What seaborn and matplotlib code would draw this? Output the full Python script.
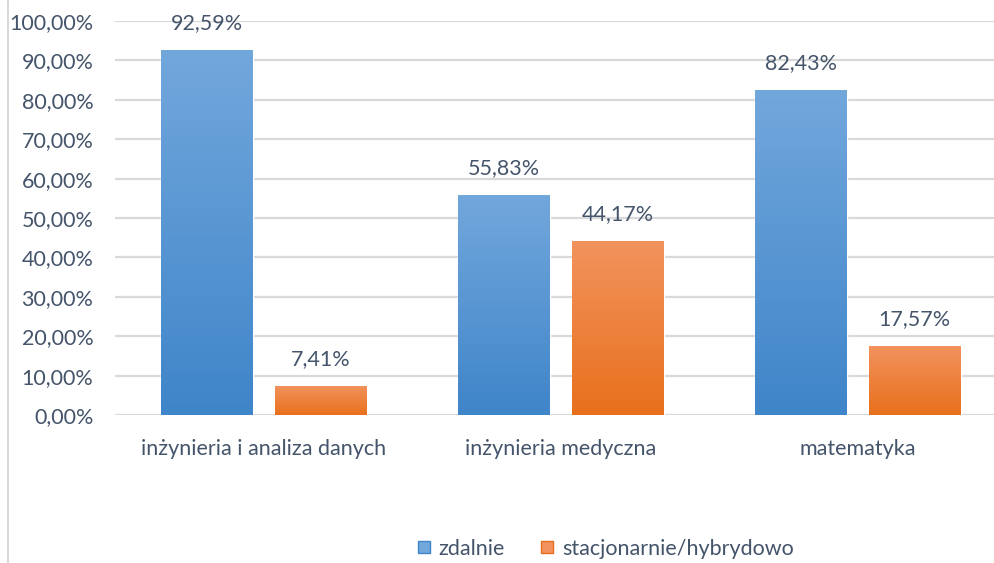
import numpy as np
import pandas as pd
import matplotlib
matplotlib.use("Agg")
import matplotlib.pyplot as plt
import seaborn as sns
from matplotlib.colors import LinearSegmentedColormap
from matplotlib.lines import Line2D

# Data
kierunki = ["inżynieria i analiza danych", "inżynieria medyczna", "matematyka"]
tryby = ["zdalnie", "stacjonarnie/hybrydowo"]
zdalnie = [92.59, 55.83, 82.43]
stacjonarnie = [7.41, 44.17, 17.57]
y_ticks = list(range(0, 101, 10))

text_color = "#44546a"
grid_color = "#d9d9d9"
# gradient colours (top, bottom) per series
gradients = {
    "zdalnie": ("#72a7dc", "#3f85c9"),
    "stacjonarnie/hybrydowo": ("#f2935e", "#e8701c"),
}


def pl_pct(v):
    return f"{v:.2f}%".replace(".", ",")


df = pd.DataFrame({
    "kierunek": kierunki * 2,
    "tryb": [tryby[0]] * 3 + [tryby[1]] * 3,
    "wartosc": zdalnie + stacjonarnie,
})

sns.set_theme(style="white")
plt.rcParams["font.family"] = ["Lato", "DejaVu Sans"]
fs = 15.5

fig = plt.figure(figsize=(9.95, 5.63), dpi=100)
ax = fig.add_axes([115.5 / 995, 148 / 563, (1006.5 - 115.5) / 995, (415 - 21) / 563])

sns.barplot(data=df, x="kierunek", y="wartosc", hue="tryb", hue_order=tryby,
            palette=[gradients[t][1] for t in tryby], width=0.764, gap=0.19,
            legend=False, ax=ax, zorder=3)

# gradient fill, clipped to each bar drawn by seaborn
for container, tryb in zip(ax.containers, tryby):
    cmap = LinearSegmentedColormap.from_list(tryb, [gradients[tryb][1], gradients[tryb][0]])
    for bar in container:
        x0, y0 = bar.get_x(), bar.get_y()
        w, h = bar.get_width(), bar.get_height()
        grad = np.linspace(0, 1, 256).reshape(-1, 1)
        im = ax.imshow(grad, cmap=cmap, origin="lower", aspect="auto",
                       extent=[x0, x0 + w, y0, y0 + h], zorder=3.5)
        im.set_clip_path(bar)
    ax.bar_label(container, labels=[pl_pct(v) for v in container.datavalues],
                 padding=12, fontsize=fs, color=text_color, zorder=5)

ax.set_xlim(-0.5, 2.5)
ax.set_ylim(0, 100)
ax.set_yticks(y_ticks)
ax.set_yticklabels([pl_pct(t) for t in y_ticks])
ax.yaxis.grid(True, color=grid_color, linewidth=1.6, zorder=0)
ax.set_axisbelow(True)
for s in ax.spines.values():
    s.set_visible(False)
ax.tick_params(axis="y", length=0, pad=16, labelsize=fs, labelcolor=text_color)
ax.tick_params(axis="x", length=0, pad=17, labelsize=fs, labelcolor=text_color)
ax.set_xlabel("")
ax.set_ylabel("")

# legend at the bottom
handles = [Line2D([], [], marker="s", linestyle="", markersize=8,
                  markerfacecolor=gradients[t][0], markeredgecolor=gradients[t][1])
           for t in tryby]
fig.legend(handles, tryby, loc="center", bbox_to_anchor=(0.608, 0.025), ncol=2,
           frameon=False, fontsize=fs, labelcolor=text_color, handlelength=0.7,
           handletextpad=0.35, columnspacing=1.6)

# thin border line at the left edge
fig.add_artist(Line2D([8 / 995, 8 / 995], [0, 1], color=grid_color, linewidth=1.5))

fig.savefig("out.png", dpi=100)
